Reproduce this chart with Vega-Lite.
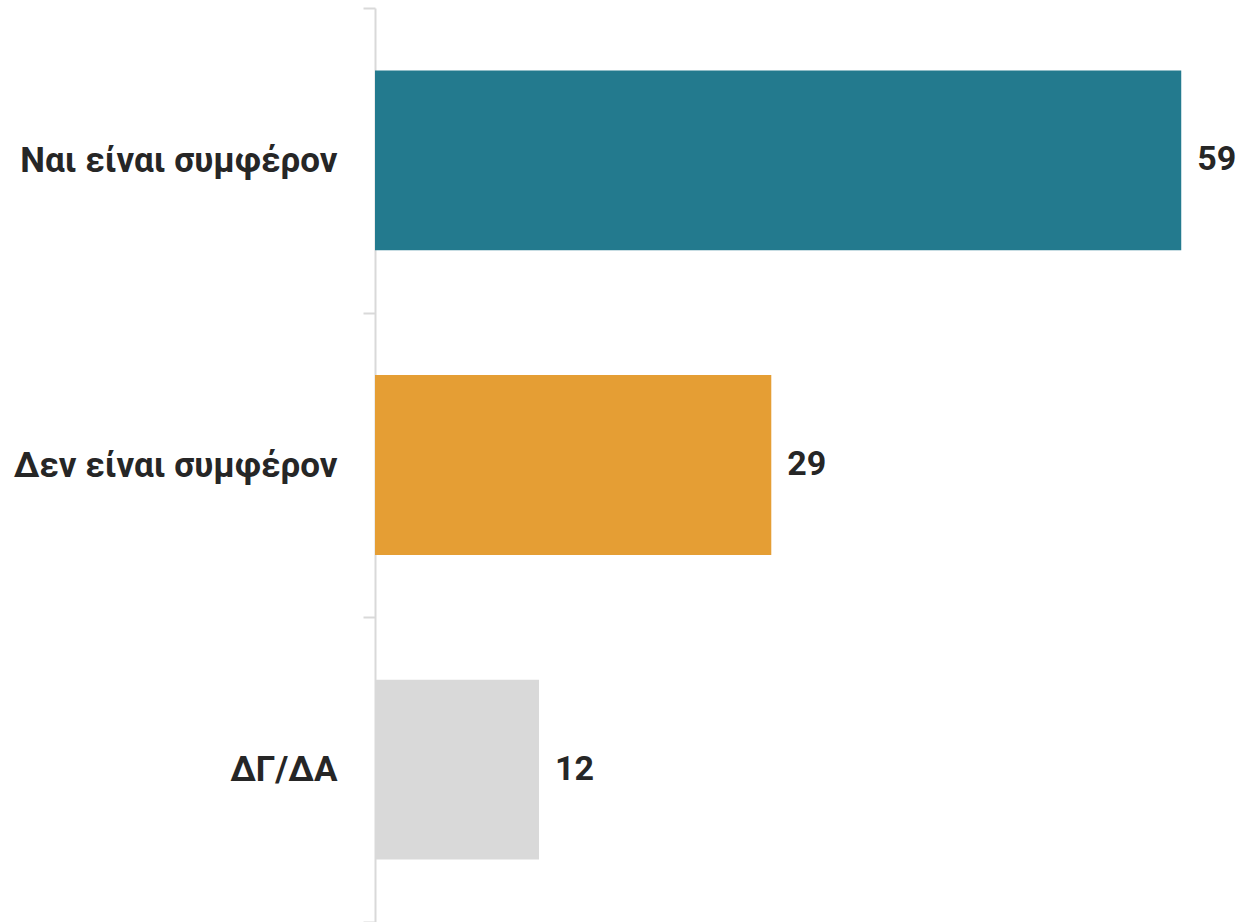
{
  "$schema": "https://vega.github.io/schema/vega-lite/v6.json",
  "width": 865,
  "height": 914,
  "autosize": {"type": "none"},
  "padding": {"left": 375, "top": 8, "right": 0, "bottom": 0},
  "background": "white",
  "config": {"view": {"stroke": null}, "font": "Roboto"},
  "data": {
    "values": [
      {"label": "Ναι είναι συμφέρον", "value": 59, "color": "#237A8E"},
      {"label": "Δεν είναι συμφέρον", "value": 29, "color": "#E59E34"},
      {"label": "ΔΓ/ΔΑ", "value": 12, "color": "#D9D9D9"}
    ]
  },
  "encoding": {
    "y": {
      "field": "label",
      "type": "nominal",
      "sort": null,
      "scale": {"paddingInner": 0, "paddingOuter": 0},
      "axis": {
        "title": null,
        "tickBand": "extent",
        "domainColor": "#D9D9D9",
        "domainWidth": 2,
        "tickColor": "#D9D9D9",
        "tickWidth": 2,
        "tickSize": 12,
        "labelPadding": 26,
        "labelFontSize": 35,
        "labelFontWeight": "bold",
        "labelColor": "#262626",
        "labelFont": "Roboto",
        "labelLimit": 400
      }
    },
    "x": {
      "field": "value",
      "type": "quantitative",
      "scale": {"domain": [0, 63.3]},
      "axis": null
    }
  },
  "layer": [
    {
      "mark": {"type": "bar", "height": {"band": 0.59}},
      "encoding": {"color": {"field": "color", "type": "nominal", "scale": null}}
    },
    {
      "mark": {"type": "text", "align": "left", "baseline": "middle", "dx": 16, "fontSize": 34, "fontWeight": "bold", "color": "#262626", "font": "Roboto"},
      "encoding": {"text": {"field": "value", "type": "quantitative"}}
    }
  ]
}
